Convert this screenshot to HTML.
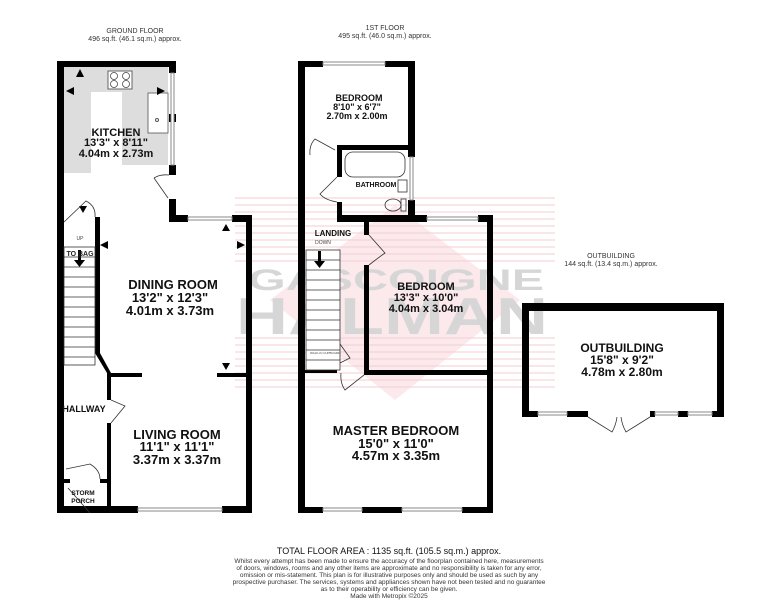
<!DOCTYPE html>
<html><head><meta charset="utf-8"><style>
html,body{margin:0;padding:0;background:#fff;width:782px;height:600px;overflow:hidden}
svg{display:block}
text{font-family:"Liberation Sans",Arial,sans-serif}
.t{font-weight:bold;fill:#111;text-anchor:middle}
.s{fill:#333;text-anchor:middle;font-size:7px}
</style></head><body>
<svg width="782" height="600" viewBox="0 0 782 600" xmlns="http://www.w3.org/2000/svg">
<!-- watermark -->
<g>
<polygon points="395,205 520,300 395,400 270,300" fill="#fbe9ec"/>
<g stroke="#f5cdd3" stroke-width="1">
<line x1="235" y1="198" x2="555" y2="198"/><line x1="235" y1="205" x2="555" y2="205"/><line x1="235" y1="212" x2="555" y2="212"/><line x1="235" y1="219" x2="555" y2="219"/><line x1="235" y1="226" x2="555" y2="226"/><line x1="235" y1="233" x2="555" y2="233"/><line x1="235" y1="240" x2="555" y2="240"/><line x1="235" y1="247" x2="555" y2="247"/><line x1="235" y1="254" x2="555" y2="254"/><line x1="235" y1="261" x2="555" y2="261"/>
<line x1="235" y1="338" x2="555" y2="338"/><line x1="235" y1="345" x2="555" y2="345"/><line x1="235" y1="352" x2="555" y2="352"/><line x1="235" y1="359" x2="555" y2="359"/><line x1="235" y1="366" x2="555" y2="366"/><line x1="235" y1="373" x2="555" y2="373"/><line x1="235" y1="380" x2="555" y2="380"/><line x1="235" y1="387" x2="555" y2="387"/>
</g>
<text x="396" y="290" text-anchor="middle" font-size="30" font-weight="bold" fill="#d6d6d6" textLength="296" lengthAdjust="spacingAndGlyphs">GASCOIGNE</text>
<text x="392" y="334" text-anchor="middle" font-size="52" font-weight="bold" fill="#d6d6d6" textLength="312" lengthAdjust="spacingAndGlyphs">HALMAN</text>
</g>

<!-- headers -->
<text class="s" x="135" y="33">GROUND FLOOR</text>
<text class="s" x="135" y="41">496 sq.ft. (46.1 sq.m.) approx.</text>
<text class="s" x="385" y="30">1ST FLOOR</text>
<text class="s" x="385" y="38">495 sq.ft. (46.0 sq.m.) approx.</text>
<text class="s" x="611" y="258">OUTBUILDING</text>
<text class="s" x="611" y="266">144 sq.ft. (13.4 sq.m.) approx.</text>

<!-- GROUND FLOOR -->
<g fill="#ddd">
<rect x="64" y="67" width="104" height="25"/>
<rect x="64" y="67" width="27" height="106"/>
<rect x="122" y="67" width="46" height="98"/>
</g>
<rect x="108" y="71" width="24" height="18" fill="#fff" stroke="#444" stroke-width="0.8"/>
<circle cx="114" cy="76" r="3.5" fill="none" stroke="#444" stroke-width="0.8"/><circle cx="126" cy="76" r="3.5" fill="none" stroke="#444" stroke-width="0.8"/>
<circle cx="114" cy="84" r="3.5" fill="none" stroke="#444" stroke-width="0.8"/><circle cx="126" cy="84" r="3.5" fill="none" stroke="#444" stroke-width="0.8"/>
<rect x="148" y="93" width="20" height="40" fill="#fff" stroke="#555" stroke-width="0.8"/>
<circle cx="157" cy="120" r="1.5" fill="none" stroke="#555"/>
<g fill="#000">
<rect x="57" y="61" width="7" height="452"/>
<rect x="57" y="61" width="119" height="6"/>
<rect x="169" y="61" width="7" height="12"/>
<rect x="169" y="114" width="7" height="8"/>
<rect x="169" y="165" width="7" height="10"/>
<rect x="169" y="199" width="7" height="23"/>
<rect x="169" y="215" width="19" height="7"/>
<rect x="232" y="215" width="20" height="7"/>
<rect x="246" y="215" width="6" height="298"/>
<rect x="57" y="506" width="81" height="7"/>
<rect x="222" y="506" width="30" height="7"/>
<rect x="95" y="217" width="5" height="136"/>
<polygon points="95,353 100,353 111,373 107,373"/>
<rect x="107" y="373" width="4" height="27"/>
<rect x="107" y="423" width="4" height="90"/>
<rect x="108" y="373" width="34" height="4"/>
<rect x="217" y="373" width="29" height="4"/>
<rect x="64" y="479" width="6" height="4"/>
<rect x="100" y="479" width="8" height="4"/>
<polygon points="80,69 76,77 84,77"/><polygon points="66,91 74,87 74,95"/>
<polygon points="165,91 157,87 157,95"/>
<polygon points="83,213 79,206 87,206"/>
<polygon points="100,245 108,241 108,249"/>
<polygon points="226,224 222,231 230,231"/>
<polygon points="245,245 237,241 237,249"/>
<polygon points="226,370 222,363 230,363"/>
<rect x="78" y="250" width="3" height="12"/><polygon points="74,260 85,260 79.5,267"/>
</g>
<g stroke="#888" stroke-width="1" fill="#fff">
<rect x="171" y="73" width="3" height="92"/>
<rect x="188" y="217" width="44" height="3"/>
<rect x="138" y="508" width="84" height="3"/>
</g>
<g stroke="#333" stroke-width="0.8" fill="none">
<rect x="64" y="247" width="31" height="118"/>
<line x1="64" y1="257" x2="95" y2="257"/><line x1="64" y1="267" x2="95" y2="267"/><line x1="64" y1="277" x2="95" y2="277"/><line x1="64" y1="287" x2="95" y2="287"/><line x1="64" y1="297" x2="95" y2="297"/><line x1="64" y1="307" x2="95" y2="307"/><line x1="64" y1="317" x2="95" y2="317"/><line x1="64" y1="327" x2="95" y2="327"/><line x1="64" y1="337" x2="95" y2="337"/><line x1="64" y1="347" x2="95" y2="347"/><line x1="64" y1="357" x2="95" y2="357"/>
<path d="M154,178 L168,198 M154,178 Q160,174 169,175"/>
<path d="M64,222 L86,201 Q96,206 95,217"/>
<path d="M111,400 L125,406 L111,423"/>
<path d="M66,469 L90,464 Q100,470 100,479"/>
<path d="M68,488 L90,513"/>
</g>
<text x="80" y="240" font-size="5" fill="#444" text-anchor="middle">UP</text>
<text x="80" y="256" font-size="7" font-weight="bold" fill="#222" text-anchor="middle">TO BAG</text>
<text class="t" x="116" y="136" font-size="11">KITCHEN</text>
<text class="t" x="116" y="146" font-size="11">13'3"  x 8'11"</text>
<text class="t" x="116" y="157" font-size="11">4.04m  x 2.73m</text>
<text class="t" x="173" y="289" font-size="13">DINING ROOM</text>
<text class="t" x="170" y="302" font-size="13">13'2"  x 12'3"</text>
<text class="t" x="170" y="315" font-size="13">4.01m  x 3.73m</text>
<text class="t" x="84" y="412" font-size="9">HALLWAY</text>
<text class="t" x="177" y="439" font-size="13">LIVING ROOM</text>
<text class="t" x="177" y="451" font-size="13">11'1"  x 11'1"</text>
<text class="t" x="177" y="464" font-size="13">3.37m  x 3.37m</text>
<text class="t" x="83" y="495" font-size="6.5">STORM</text>
<text class="t" x="83" y="503" font-size="6.5">PORCH</text>

<!-- FIRST FLOOR -->
<g fill="#000">
<rect x="298" y="61" width="7" height="452"/>
<rect x="298" y="61" width="25" height="6"/>
<rect x="385" y="61" width="30" height="6"/>
<rect x="408" y="61" width="7" height="96"/>
<rect x="408" y="200" width="7" height="22"/>
<rect x="337" y="145" width="71" height="5"/>
<rect x="337" y="145" width="5" height="32"/>
<rect x="337" y="202" width="5" height="20"/>
<rect x="337" y="215" width="90" height="7"/>
<rect x="478" y="215" width="15" height="7"/>
<rect x="487" y="215" width="6" height="298"/>
<rect x="364" y="220" width="5" height="15"/>
<rect x="364" y="265" width="5" height="110"/>
<rect x="364" y="370" width="123" height="5"/>
<rect x="305" y="370" width="32" height="3"/>
<rect x="298" y="507" width="25" height="6"/>
<rect x="362" y="507" width="40" height="6"/>
<rect x="462" y="507" width="31" height="6"/>
<rect x="318" y="251" width="3" height="12"/><polygon points="314,261 325,261 319.5,268"/>
</g>
<g stroke="#888" stroke-width="1" fill="#fff">
<rect x="323" y="62" width="62" height="3"/>
<rect x="410" y="157" width="3" height="43"/>
<rect x="427" y="217" width="51" height="3"/>
<rect x="323" y="508" width="39" height="3"/>
<rect x="402" y="508" width="60" height="3"/>
</g>
<g stroke="#333" stroke-width="0.8" fill="none">
<rect x="345" y="152" width="60" height="25" rx="8"/>
<rect x="398" y="180" width="9" height="12"/>
<ellipse cx="393" cy="205" rx="8" ry="6"/><rect x="401" y="199" width="5" height="12"/>
<rect x="306" y="250" width="34" height="120" fill="#fff"/>
<line x1="306" y1="260" x2="340" y2="260"/><line x1="306" y1="270" x2="340" y2="270"/><line x1="306" y1="280" x2="340" y2="280"/><line x1="306" y1="290" x2="340" y2="290"/><line x1="306" y1="300" x2="340" y2="300"/><line x1="306" y1="310" x2="340" y2="310"/><line x1="306" y1="320" x2="340" y2="320"/><line x1="306" y1="330" x2="340" y2="330"/><line x1="306" y1="340" x2="340" y2="340"/><line x1="306" y1="350" x2="340" y2="350"/><line x1="306" y1="360" x2="340" y2="360"/>
<path d="M335,150 L315,139 Q309,145 310,155"/>
<path d="M337,177 L320,194 Q325,200 337,202"/>
<path d="M369,235 L385,253 Q378,258 369,265"/>
<path d="M340,344 L350,358 L340,363"/>
<path d="M364,375 L345,390 Q340,383 341,373"/>
</g>
<rect x="318" y="251" width="3" height="12"/><polygon points="314,261 325,261 319.5,268"/>
<text x="310" y="354" font-size="3" fill="#444">WALK-IN CUPBOARD</text>
<text class="t" x="359" y="101" font-size="9">BEDROOM</text>
<text class="t" x="357" y="110" font-size="9">8'10"  x 6'7"</text>
<text class="t" x="357" y="119" font-size="9">2.70m  x 2.00m</text>
<text class="t" x="376" y="187" font-size="7">BATHROOM</text>
<text class="t" x="333" y="236" font-size="8">LANDING</text>
<text x="323" y="244" font-size="5" fill="#444" text-anchor="middle">DOWN</text>
<text class="t" x="426" y="290" font-size="11">BEDROOM</text>
<text class="t" x="426" y="301" font-size="11">13'3"  x 10'0"</text>
<text class="t" x="426" y="312" font-size="11">4.04m  x 3.04m</text>
<text class="t" x="396" y="435" font-size="13">MASTER BEDROOM</text>
<text class="t" x="396" y="448" font-size="13">15'0"  x 11'0"</text>
<text class="t" x="396" y="460" font-size="13">4.57m  x 3.35m</text>

<!-- OUTBUILDING -->
<g fill="#000">
<rect x="522" y="303" width="202" height="8"/>
<rect x="522" y="303" width="7" height="114"/>
<rect x="717" y="303" width="7" height="114"/>
<rect x="522" y="411" width="16" height="6"/>
<rect x="567" y="411" width="21" height="6"/>
<rect x="650" y="411" width="5" height="6"/>
<rect x="678" y="411" width="10" height="6"/>
<rect x="712" y="411" width="12" height="6"/>
</g>
<g stroke="#888" stroke-width="1" fill="#fff">
<rect x="538" y="412" width="29" height="3"/><rect x="655" y="412" width="23" height="3"/><rect x="688" y="412" width="24" height="3"/>
</g>
<g stroke="#333" stroke-width="0.8" fill="none">
<path d="M588,417 L612,432 Q616,425 617,417"/>
<path d="M650,417 L626,432 Q622,425 621,417"/>
</g>
<text class="t" x="622" y="352" font-size="12">OUTBUILDING</text>
<text class="t" x="622" y="364" font-size="12">15'8"  x 9'2"</text>
<text class="t" x="622" y="376" font-size="12">4.78m  x 2.80m</text>

<!-- footer -->
<text x="389" y="554" font-size="9" fill="#111" text-anchor="middle">TOTAL FLOOR AREA : 1135 sq.ft. (105.5 sq.m.) approx.</text>
<g font-size="6.5" fill="#333" text-anchor="middle">
<text x="389" y="563">Whilst every attempt has been made to ensure the accuracy of the floorplan contained here, measurements</text>
<text x="389" y="570">of doors, windows, rooms and any other items are approximate and no responsibility is taken for any error,</text>
<text x="389" y="577">omission or mis-statement. This plan is for illustrative purposes only and should be used as such by any</text>
<text x="389" y="584">prospective purchaser. The services, systems and appliances shown have not been tested and no guarantee</text>
<text x="389" y="591">as to their operability or efficiency can be given.</text>
<text x="389" y="598">Made with Metropix ©2025</text>
</g>
</svg>
</body></html>
